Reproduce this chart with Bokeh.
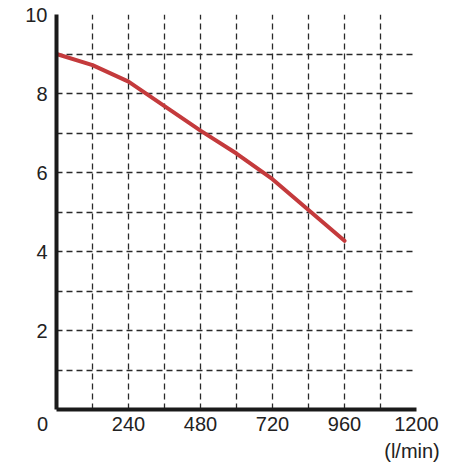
from bokeh.plotting import figure
from bokeh.models import FixedTicker, LinearAxis, Range1d, ColumnDataSource
from bokeh.embed import file_html
from bokeh.resources import INLINE

# Data
flow = [0, 120, 240, 360, 480, 600, 720, 840, 960]
head = [9.0, 8.72, 8.30, 7.68, 7.06, 6.48, 5.83, 5.05, 4.27]

x_ticks = [0, 240, 480, 720, 960, 1200]
x_tick_labels = ["0", "240", "480", "720", "960", "1200"]
y_ticks = [2, 4, 6, 8, 10]
x_grid = [120, 240, 360, 480, 600, 720, 840, 960, 1080]
y_grid = [1, 2, 3, 4, 5, 6, 7, 8, 9]
unit_label = "(l/min)"

FONT = "Liberation Sans"
TXT = "#222222"
NBSP = "\u00a0"

p = figure(width=470, height=474, x_range=(0, 1200), y_range=(0, 10),
           output_backend="svg", toolbar_location=None,
           min_border_left=56, min_border_right=54,
           min_border_top=14, min_border_bottom=65)
p.outline_line_color = None
p.background_fill_color = "white"
p.border_fill_color = "white"

for ax in (p.xaxis[0], p.yaxis[0]):
    ax.axis_line_width = 4
    ax.axis_line_color = "#1a1a1a"
    ax.major_tick_line_color = None
    ax.minor_tick_line_color = None
    ax.major_label_text_font = FONT
    ax.major_label_text_font_size = "20px"
    ax.major_label_text_color = TXT

overrides = {t: s for t, s in zip(x_ticks, x_tick_labels)}
# the origin label sits left of the corner, as in the original
overrides[0] = x_tick_labels[0] + NBSP * 5
p.xaxis.ticker = FixedTicker(ticks=x_ticks)
p.xaxis.major_label_overrides = overrides
p.yaxis.ticker = FixedTicker(ticks=y_ticks)
p.xaxis.major_label_standoff = -3
p.yaxis.major_label_standoff = 3

p.xgrid.ticker = FixedTicker(ticks=x_grid)
p.ygrid.ticker = FixedTicker(ticks=y_grid)
for g in (p.xgrid[0], p.ygrid[0]):
    g.grid_line_color = "#2a2a2a"
    g.grid_line_dash = "6 4"
    g.grid_line_width = 1.3

src = ColumnDataSource(dict(x=flow, y=head))
p.line("x", "y", source=src, line_color="#c43a3c", line_width=4, line_cap="round")

# unit label row under the tick labels
p.extra_x_ranges = {"unit": Range1d(0, 1215.2)}
unit_axis = LinearAxis(x_range_name="unit", ticker=FixedTicker(ticks=[1200]),
                       major_label_overrides={1200: unit_label})
unit_axis.axis_line_color = None
unit_axis.major_tick_line_color = None
unit_axis.minor_tick_line_color = None
unit_axis.major_label_text_font = FONT
unit_axis.major_label_text_font_size = "20px"
unit_axis.major_label_text_color = TXT
unit_axis.major_label_standoff = -4
p.add_layout(unit_axis, "below")

open("out.html", "w").write(file_html(p, INLINE))
